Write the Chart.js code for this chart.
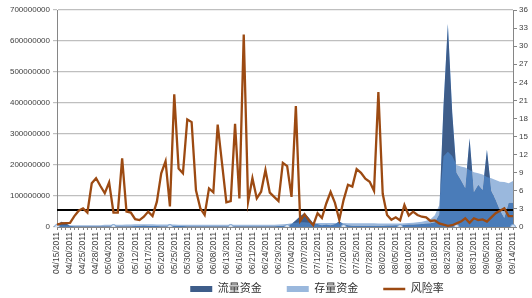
<!DOCTYPE html>
<html>
<head>
<meta charset="utf-8">
<script src="https://cdn.jsdelivr.net/npm/chart.js@4"></script>
<style>
  html, body { margin: 0; padding: 0; background: #fff; }
  #wrap { width: 532px; height: 298px; }
</style>
</head>
<body>
<div id="wrap"><canvas id="myChart" width="532" height="298"></canvas></div>
<script>
// trading days, a label is shown on every third one
var dates = [
  '04/15/2011','04/18/2011','04/19/2011','04/20/2011','04/21/2011','04/22/2011','04/25/2011','04/26/2011','04/27/2011','04/28/2011','04/29/2011',
  '05/03/2011','05/04/2011','05/05/2011','05/06/2011','05/09/2011','05/10/2011','05/11/2011','05/12/2011','05/13/2011','05/16/2011','05/17/2011',
  '05/18/2011','05/19/2011','05/20/2011','05/23/2011','05/24/2011','05/25/2011','05/26/2011','05/27/2011','05/30/2011','05/31/2011',
  '06/01/2011','06/02/2011','06/03/2011','06/07/2011','06/08/2011','06/09/2011','06/10/2011','06/13/2011','06/14/2011','06/15/2011','06/16/2011',
  '06/17/2011','06/20/2011','06/21/2011','06/22/2011','06/23/2011','06/24/2011','06/27/2011','06/28/2011','06/29/2011','06/30/2011',
  '07/01/2011','07/04/2011','07/05/2011','07/06/2011','07/07/2011','07/08/2011','07/11/2011','07/12/2011','07/13/2011','07/14/2011','07/15/2011',
  '07/18/2011','07/19/2011','07/20/2011','07/21/2011','07/22/2011','07/25/2011','07/26/2011','07/27/2011','07/28/2011','07/29/2011',
  '08/01/2011','08/02/2011','08/03/2011','08/04/2011','08/05/2011','08/08/2011','08/09/2011','08/10/2011','08/11/2011','08/12/2011','08/15/2011',
  '08/16/2011','08/17/2011','08/18/2011','08/19/2011','08/22/2011','08/23/2011','08/24/2011','08/25/2011','08/26/2011','08/29/2011','08/30/2011','08/31/2011',
  '09/01/2011','09/02/2011','09/05/2011','09/06/2011','09/07/2011','09/08/2011','09/09/2011','09/13/2011','09/14/2011'
];

// 流量资金 (left axis)
var flowFunds = [
  4e6, 17e6, 12e6, 4e6, 2e6, 2e6, 2e6, 2e6, 2e6, 2e6,
  2e6, 2e6, 2e6, 2e6, 2e6, 2e6, 2e6, 2e6, 3e6, 4e6,
  5e6, 4e6, 3e6, 3e6, 2e6, 2e6, 2e6, 3e6, 3e6, 3e6,
  2e6, 2e6, 2e6, 2e6, 2e6, 2e6, 2e6, 2e6, 2e6, 2e6,
  2e6, 2e6, 2e6, 2e6, 2e6, 2e6, 2e6, 2e6, 2e6, 2e6,
  2e6, 3e6, 4e6, 6e6, 10e6, 22e6, 35e6, 45e6, 30e6, 12e6,
  10e6, 6e6, 8e6, 6e6, 10e6, 18e6, 10e6, 6e6, 4e6, 4e6,
  4e6, 4e6, 4e6, 4e6, 4e6, 4e6, 5e6, 5e6, 6e6, 6e6,
  7e6, 8e6, 8e6, 9e6, 10e6, 11e6, 12e6, 15e6, 40e6, 390e6,
  655e6, 370e6, 175e6, 152e6, 126e6, 286e6, 113e6, 136e6, 119e6, 249e6,
  117e6, 88e6, 54e6, 29e6, 78e6, 78e6
];

// 存量资金 (left axis)
var stockFunds = [
  6e6, 6e6, 6e6, 6e6, 6e6, 6e6, 6e6, 6e6, 6e6, 6e6,
  6e6, 7e6, 7e6, 7e6, 7e6, 7e6, 8e6, 8e6, 9e6, 9e6,
  9e6, 9e6, 9e6, 8e6, 8e6, 8e6, 8e6, 8e6, 7e6, 7e6,
  7e6, 7e6, 7e6, 7e6, 7e6, 7e6, 7e6, 7e6, 7e6, 7e6,
  7e6, 7e6, 7e6, 7e6, 7e6, 7e6, 7e6, 7e6, 7e6, 7e6,
  7e6, 8e6, 9e6, 10e6, 12e6, 14e6, 15e6, 15e6, 14e6, 13e6,
  13e6, 13e6, 13e6, 13e6, 13e6, 14e6, 13e6, 12e6, 12e6, 12e6,
  12e6, 12e6, 12e6, 12e6, 11e6, 11e6, 11e6, 11e6, 11e6, 11e6,
  12e6, 13e6, 14e6, 15e6, 17e6, 20e6, 25e6, 38e6, 70e6, 228e6,
  243e6, 229e6, 200e6, 195e6, 192e6, 184e6, 177e6, 173e6, 169e6, 161e6,
  157e6, 152e6, 146e6, 145e6, 141e6, 148e6
];

// 风险率 (right axis)
var riskRate = [
  0.4, 0.6, 0.65, 0.7, 1.8, 2.7, 3.1, 2.4, 7.25, 8.1,
  6.8, 5.6, 7.4, 2.4, 2.4, 11.4, 2.55, 2.4, 1.3, 1.15,
  1.7, 2.55, 1.8, 4.2, 8.9, 10.9, 3.4, 22.0, 9.7, 8.9,
  17.85, 17.4, 6.1, 3.1, 2.0, 6.4, 5.75, 17.0, 10.55, 4.1,
  4.3, 17.1, 4.75, 31.95, 4.2, 8.1, 4.75, 5.85, 9.45, 5.7,
  5.0, 4.3, 10.65, 10.1, 5.0, 20.05, 1.0, 2.1, 1.1, 0.3,
  2.3, 1.5, 3.9, 5.8, 4.0, 1.2, 4.5, 7.0, 6.7, 9.6,
  9.0, 8.0, 7.5, 6.0, 22.4, 5.5, 2.0, 1.2, 1.6, 1.1,
  3.65, 1.9, 2.55, 2.0, 1.7, 1.6, 1.0, 1.1, 0.6, 0.4,
  0.2, 0.3, 0.6, 0.9, 1.45, 0.7, 1.45, 1.15, 1.25, 0.9,
  1.6, 2.3, 2.7, 3.1, 1.8, 1.8
];

var riskLimit = 2.8;
var markerDates = ['04/15/2011','05/05/2011','05/24/2011','06/14/2011','07/01/2011','07/20/2011','08/08/2011','08/25/2011','09/14/2011'];

var navy = '#3E5D8A';
var mid = '#4A7CB9';
var light = '#9AB8DD';
var brown = '#9C4A12';

var plotBottom = 227;
var legendBoxH = 22;
var legendMid = 289;
var legendShift = 51;

// put the legend where the original has it
var legendSpot = {
  id: 'legendSpot',
  afterLayout: function (chart) {
    var lg = chart.legend;
    lg.left += legendShift * 2;
    lg.top = legendMid - lg.options.labels.padding - 5.5;
  }
};

Chart.defaults.font.family = "'Liberation Sans', 'Noto Sans CJK SC', sans-serif";
Chart.defaults.color = '#404040';

var ctx = document.getElementById('myChart').getContext('2d');
var myChart = new Chart(ctx, {
    type: 'line',
    data: {
        labels: dates,
        datasets: [{
            label: '流量资金',
            data: flowFunds,
            yAxisID: 'y',
            order: 4,
            backgroundColor: navy,
            borderColor: 'rgba(0,0,0,0)',
            borderWidth: 0,
            pointRadius: 0,
            pointBorderWidth: 0,
            pointStyle: 'rect',
            fill: { target: 'origin', above: mid }
        }, {
            label: '存量资金',
            data: stockFunds,
            yAxisID: 'y',
            order: 3,
            backgroundColor: light,
            borderColor: 'rgba(0,0,0,0)',
            borderWidth: 0,
            pointRadius: 0,
            pointBorderWidth: 0,
            pointStyle: 'rect',
            fill: { target: 0, above: light, below: navy }
        }, {
            label: '风险率',
            data: riskRate,
            yAxisID: 'y1',
            order: 0,
            borderColor: brown,
            backgroundColor: brown,
            borderWidth: 2.3,
            pointRadius: 0,
            pointBorderWidth: 2.5,
            pointStyle: 'line',
            fill: false
        }, {
            label: 'limit',
            data: [{ x: dates[0], y: riskLimit }, { x: dates[dates.length - 1], y: riskLimit }],
            yAxisID: 'y1',
            order: 1,
            borderColor: '#000000',
            borderWidth: 2,
            pointRadius: 0,
            fill: false
        }, {
            label: 'marks',
            data: markerDates.map(function (d) { return { x: d, y: 0 }; }),
            yAxisID: 'y',
            order: 2,
            showLine: false,
            pointRadius: 2.5,
            pointBackgroundColor: '#D5E2F2',
            pointBorderColor: '#7EA3CF',
            pointBorderWidth: 1,
            fill: false
        }]
    },
    options: {
        responsive: false,
        animation: false,
        layout: { padding: { top: 10, left: 0, right: 0, bottom: 0 } },
        elements: { line: { tension: 0 } },
        plugins: {
            tooltip: { enabled: false },
            legend: {
                position: 'bottom',
                maxHeight: legendBoxH,
                labels: {
                    usePointStyle: true,
                    pointStyleWidth: 22,
                    boxHeight: 6,
                    padding: 25,
                    color: '#303030',
                    font: { size: 11 },
                    filter: function (item) { return item.datasetIndex < 3; },
                    sort: function (a, b) { return a.datasetIndex - b.datasetIndex; }
                }
            }
        },
        scales: {
            x: {
                offset: false,
                grid: { drawOnChartArea: false, tickLength: 3, color: '#868686' },
                border: { color: '#868686' },
                ticks: {
                    autoSkip: false,
                    maxRotation: 90,
                    minRotation: 90,
                    padding: 2,
                    font: { size: 8.5 },
                    callback: function (value, index) {
                        return index % 3 === 0 ? this.getLabelForValue(value) : '';
                    }
                },
                afterFit: function (s) { s.height = 298 - plotBottom - s.chart.legend.height; }
            },
            y: {
                position: 'left',
                min: 0,
                max: 700000000,
                grid: { color: '#BFBFBF', lineWidth: 1.2, tickLength: 4 },
                border: { color: '#868686' },
                ticks: {
                    stepSize: 100000000,
                    padding: 3,
                    font: { size: 8 },
                    callback: function (value) { return String(value); }
                },
                afterFit: function (s) { s.width = 57; }
            },
            y1: {
                position: 'right',
                min: 0,
                max: 36,
                grid: { drawOnChartArea: false, tickLength: 4, color: '#868686' },
                border: { color: '#868686' },
                ticks: { stepSize: 3, padding: 2, font: { size: 8 } },
                afterFit: function (s) { s.width = 19; }
            }
        }
    },
    plugins: [legendSpot]
});
</script>
</body>
</html>
